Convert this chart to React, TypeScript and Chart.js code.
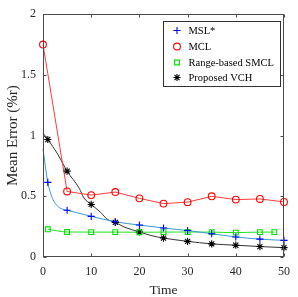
import React, { useEffect, useRef } from 'react';
import { Chart, registerables } from 'chart.js';
import { drawPoint } from 'chart.js/helpers';

Chart.register(...registerables);

const xTicks = [0, 10, 20, 30, 40, 50];
const xTickLabels = ['0', '10', '20', '30', '40', '50'];
const yTicks = [0, 0.5, 1, 1.5, 2];
const yTickLabels = ['0', '0.5', '1', '1.5', '2'];

const seriesNames = ['MSL*', 'MCL', 'Range-based SMCL', 'Proposed VCH'];
const xTitle = 'Time';
const yTitle = 'Mean Error (%r)';

// MSL* : marker readings and extra readings of the curve between markers
const mslX = [1, 5, 10, 15, 20, 25, 30, 35, 40, 45, 50];
const mslY = [0.615, 0.385, 0.335, 0.29, 0.263, 0.239, 0.218, 0.192, 0.165, 0.147, 0.137];
const mslCurveX = [0, 2, 3, 4];
const mslCurveY = [0.89, 0.48, 0.42, 0.395];

// MCL
const mclX = [0, 5, 10, 15, 20, 25, 30, 35, 40, 45, 50];
const mclY = [1.75, 0.54, 0.51, 0.535, 0.483, 0.44, 0.452, 0.5, 0.473, 0.478, 0.454];

// Range-based SMCL
const smclX = [1, 5, 10, 15, 20, 25, 30, 35, 40, 45, 48];
const smclY = [0.228, 0.206, 0.205, 0.205, 0.204, 0.205, 0.206, 0.205, 0.201, 0.205, 0.205];

// Proposed VCH
const vchX = [1, 5, 10, 15, 20, 25, 30, 35, 40, 45, 50];
const vchY = [0.968, 0.707, 0.433, 0.285, 0.207, 0.156, 0.129, 0.108, 0.097, 0.086, 0.077];
const vchCurveX = [0, 3, 7.5, 8.5, 12, 13.3, 17, 22.4, 27.2];
const vchCurveY = [1.02, 0.85, 0.567, 0.486, 0.366, 0.312, 0.244, 0.177, 0.143];

const FONT = "'Liberation Serif', 'Times New Roman', serif";

const pts = (xs: number[], ys: number[]) => xs.map((x, i) => ({ x, y: ys[i] }));
const merged = (a: { x: number; y: number }[], b: { x: number; y: number }[]) =>
  [...a, ...b].sort((p, q) => p.x - q.x);

const styles = [
  { line: '#3a97dc', marker: '#0000ff', pointStyle: 'cross', radius: 3.6 },
  { line: '#ff3b3b', marker: '#ff0000', pointStyle: 'circle', radius: 3.4 },
  { line: '#22e022', marker: '#00e000', pointStyle: 'rect', radius: 3.4 },
  { line: '#333333', marker: '#000000', pointStyle: 'star', radius: 3.6 },
];

const framePlugin = {
  id: 'frameAndLegend',
  afterDraw(chart: any) {
    const { ctx, chartArea } = chart;
    const { left, right, top, bottom } = chartArea;
    const xs = chart.scales.x;
    const ys = chart.scales.y;
    ctx.save();
    ctx.strokeStyle = '#4a4a4a';
    ctx.lineWidth = 1;
    const L = Math.round(left) + 0.5;
    const R = Math.round(right) - 0.5;
    const T = Math.round(top) + 0.5;
    const B = Math.round(bottom) - 0.5;
    ctx.strokeRect(L, T, R - L, B - T);
    const tl = 3;
    ctx.beginPath();
    xTicks.forEach((v) => {
      const px = Math.round(xs.getPixelForValue(v)) + 0.5;
      ctx.moveTo(px, B);
      ctx.lineTo(px, B - tl);
      ctx.moveTo(px, T);
      ctx.lineTo(px, T + tl);
    });
    yTicks.forEach((v) => {
      const py = Math.round(ys.getPixelForValue(v)) + 0.5;
      ctx.moveTo(L, py);
      ctx.lineTo(L + tl, py);
      ctx.moveTo(R, py);
      ctx.lineTo(R - tl, py);
    });
    ctx.stroke();

    // legend
    const bx = 163, by = 21, bw = 117, bh = 65;
    ctx.fillStyle = '#ffffff';
    ctx.fillRect(bx, by, bw, bh);
    ctx.strokeStyle = '#333333';
    ctx.strokeRect(bx + 0.5, by + 0.5, bw, bh);
    const rowY = [30.5, 46.5, 62.5, 77.5];
    ctx.font = `10.5px ${FONT}`;
    ctx.textBaseline = 'middle';
    ctx.textAlign = 'left';
    seriesNames.forEach((name, i) => {
      const s = styles[i];
      ctx.save();
      ctx.strokeStyle = s.marker;
      ctx.fillStyle = 'rgba(0,0,0,0)';
      ctx.lineWidth = 1.1;
      drawPoint(ctx, { pointStyle: s.pointStyle, radius: s.radius, borderWidth: 1.1, rotation: 0 } as any, 177, rowY[i]);
      ctx.restore();
      ctx.fillStyle = '#000000';
      ctx.fillText(name, 188.5, rowY[i] + 0.5);
    });
    ctx.restore();
  },
};

export default function App() {
  const ref = useRef<HTMLCanvasElement | null>(null);

  useEffect(() => {
    document.body.style.margin = '0';
    const canvas = ref.current;
    if (!canvas) return;

    const lineSets = [
      merged(pts(mslX, mslY), pts(mslCurveX, mslCurveY)),
      pts(mclX, mclY),
      pts(smclX, smclY),
      merged(pts(vchX, vchY), pts(vchCurveX, vchCurveY)),
    ];
    const markerSets = [pts(mslX, mslY), pts(mclX, mclY), pts(smclX, smclY), pts(vchX, vchY)];

    const datasets: any[] = [];
    lineSets.forEach((data, i) => {
      datasets.push({
        label: seriesNames[i] + ' line',
        data,
        borderColor: styles[i].line,
        borderWidth: 1,
        pointRadius: 0,
        fill: false,
        showLine: true,
        cubicInterpolationMode: i === 1 ? 'default' : 'monotone',
        tension: 0,
        clip: false,
        order: 2,
      });
    });
    markerSets.forEach((data, i) => {
      datasets.push({
        label: seriesNames[i],
        data,
        showLine: false,
        pointStyle: styles[i].pointStyle,
        pointRadius: styles[i].radius,
        pointBorderColor: styles[i].marker,
        pointBackgroundColor: 'rgba(0,0,0,0)',
        pointBorderWidth: 1.1,
        borderColor: styles[i].marker,
        clip: false,
        order: 1,
      });
    });

    const chart = new Chart(canvas, {
      type: 'scatter',
      data: { datasets },
      options: {
        animation: false,
        responsive: true,
        maintainAspectRatio: false,
        layout: { padding: { top: 10, right: 10, left: 0, bottom: 0 } },
        plugins: { legend: { display: false }, tooltip: { enabled: false } },
        scales: {
          x: {
            type: 'linear',
            min: 0,
            max: 50,
            afterBuildTicks: (s: any) => {
              s.ticks = xTicks.map((v) => ({ value: v }));
            },
            afterFit: (s: any) => {
              s.height = 40;
            },
            grid: { display: false, drawTicks: false },
            border: { display: false },
            ticks: {
              padding: 8,
              color: '#262626',
              font: { family: FONT, size: 12 },
              maxRotation: 0,
              callback: (v: any) => {
                const i = xTicks.indexOf(Number(v));
                return i >= 0 ? xTickLabels[i] : '';
              },
            },
            title: {
              display: true,
              text: xTitle,
              color: '#262626',
              font: { family: FONT, size: 13.5, lineHeight: 1 },
              padding: { top: 0, bottom: 0 },
            },
          },
          y: {
            type: 'linear',
            min: 0,
            max: 2,
            afterBuildTicks: (s: any) => {
              s.ticks = yTicks.map((v) => ({ value: v }));
            },
            afterFit: (s: any) => {
              s.width = 43;
            },
            grid: { display: false, drawTicks: false },
            border: { display: false },
            ticks: {
              padding: 7,
              color: '#262626',
              font: { family: FONT, size: 12 },
              callback: (v: any) => {
                const i = yTicks.indexOf(Number(v));
                return i >= 0 ? yTickLabels[i] : '';
              },
            },
            title: {
              display: true,
              text: yTitle,
              color: '#262626',
              font: { family: FONT, size: 15, lineHeight: 1 },
              padding: { top: 6, bottom: 0 },
            },
          },
        },
      },
      plugins: [framePlugin],
    });

    return () => chart.destroy();
  }, []);

  return (
    <div style={{ position: 'relative', width: 298, height: 297 }}>
      <canvas ref={ref} />
    </div>
  );
}
